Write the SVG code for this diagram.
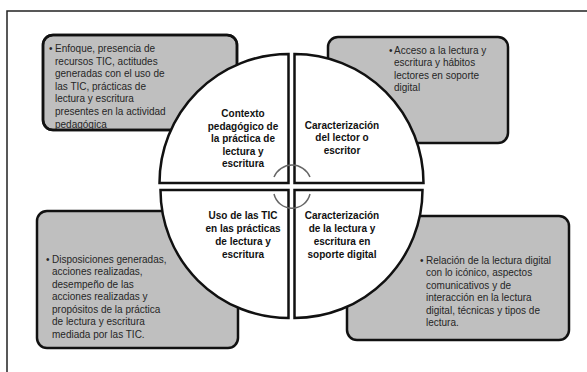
<svg xmlns="http://www.w3.org/2000/svg" width="587" height="372" viewBox="0 0 587 372">
<style>
.box{fill:#bfbfbf;stroke:#111;stroke-width:2.5}
.wedge{fill:#fff;stroke:#111;stroke-width:2.5;stroke-linejoin:miter}
.body{font-family:"Liberation Sans",Arial,sans-serif;font-size:10px;fill:#262626}
.lbl{font-family:"Liberation Sans",Arial,sans-serif;font-size:10px;font-weight:bold;fill:#111;text-anchor:middle}
.arc{fill:none;stroke:#666;stroke-width:1.5}
.frame{fill:none;stroke:#222;stroke-width:1.5}
</style>
<rect width="587" height="372" fill="#fff"/>
<path class="frame" d="M587,11 H7 V372"/>

<g id="box-tl">
<rect class="box" x="43" y="35" width="194" height="95" rx="10"/>
<text class="body" x="49" y="52">•</text>
<text class="body"><tspan x="55" y="52">Enfoque, presencia de</tspan><tspan x="55" y="64.6">recursos TIC,  actitudes</tspan><tspan x="55" y="77.2">generadas con el uso de</tspan><tspan x="55" y="89.8">las TIC, prácticas de</tspan><tspan x="55" y="102.4">lectura y escritura</tspan><tspan x="55" y="115">presentes en la actividad</tspan><tspan x="55" y="127.6">pedagógica</tspan></text>
<rect x="43" y="35" width="194" height="95" rx="10" fill="none" stroke="#111" stroke-width="2.5"/>
</g>

<g id="box-tr">
<rect class="box" x="328" y="37" width="180" height="106" rx="10"/>
<text class="body" x="389" y="53.5">•</text>
<text class="body"><tspan x="394" y="53.5">Acceso a la lectura y</tspan><tspan x="394" y="66">escritura y hábitos</tspan><tspan x="394" y="78.5">lectores en soporte</tspan><tspan x="394" y="91">digital</tspan></text>
</g>

<g id="box-bl">
<rect class="box" x="37" y="211" width="201" height="137" rx="10"/>
<text class="body" x="46" y="262.5">•</text>
<text class="body"><tspan x="52" y="262.5">Disposiciones generadas,</tspan><tspan x="52" y="275">acciones realizadas,</tspan><tspan x="52" y="287.5">desempeño de las</tspan><tspan x="52" y="300">acciones realizadas y</tspan><tspan x="52" y="312.5">propósitos de la práctica</tspan><tspan x="52" y="325">de lectura y escritura</tspan><tspan x="52" y="337.5">mediada por las TIC.</tspan></text>
</g>

<g id="box-br">
<rect class="box" x="347" y="216" width="222" height="124" rx="10"/>
<text class="body" x="420" y="263.5">•</text>
<text class="body"><tspan x="426" y="263.5">Relación de la lectura digital</tspan><tspan x="426" y="276">con lo icónico, aspectos</tspan><tspan x="426" y="288.5">comunicativos y de</tspan><tspan x="426" y="301">interacción  en la lectura</tspan><tspan x="426" y="313.5">digital, técnicas y tipos de</tspan><tspan x="426" y="326">lectura.</tspan></text>
</g>

<g id="q-tl">
<path class="wedge" d="M288.5,183 H159.5 A129,129 0 0 1 288.5,54 Z"/>
<text class="lbl"><tspan x="243" y="117">Contexto</tspan><tspan x="243" y="129.5">pedagógico de</tspan><tspan x="243" y="142">la práctica de</tspan><tspan x="243" y="154.5">lectura y</tspan><tspan x="243" y="167">escritura</tspan></text>
</g>

<g id="q-tr">
<path class="wedge" d="M294.5,183 V54 A129,129 0 0 1 423.5,183 Z"/>
<text class="lbl"><tspan x="342" y="128.5">Caracterización</tspan><tspan x="342" y="141">del lector o</tspan><tspan x="342" y="153.5">escritor</tspan></text>
</g>

<g id="q-bl">
<path class="wedge" d="M288.5,190 V318 A128,128 0 0 1 160.5,190 Z"/>
<text class="lbl"><tspan x="243" y="219">Uso de las TIC</tspan><tspan x="243" y="232">en las prácticas</tspan><tspan x="243" y="245">de lectura y</tspan><tspan x="243" y="258">escritura</tspan></text>
</g>

<g id="q-br">
<path class="wedge" d="M294.5,190 H422.5 A128,128 0 0 1 294.5,318 Z"/>
<text class="lbl"><tspan x="342" y="219">Caracterización</tspan><tspan x="342" y="232">de la lectura y</tspan><tspan x="342" y="245">escritura en</tspan><tspan x="342" y="258">soporte digital</tspan></text>
</g>

<g id="connectors">
<path class="arc" d="M274,177 A19.5,19.5 0 0 1 310,177"/>
<path class="arc" d="M274,194 A18.5,18.5 0 0 0 310,194"/>
</g>
</svg>
